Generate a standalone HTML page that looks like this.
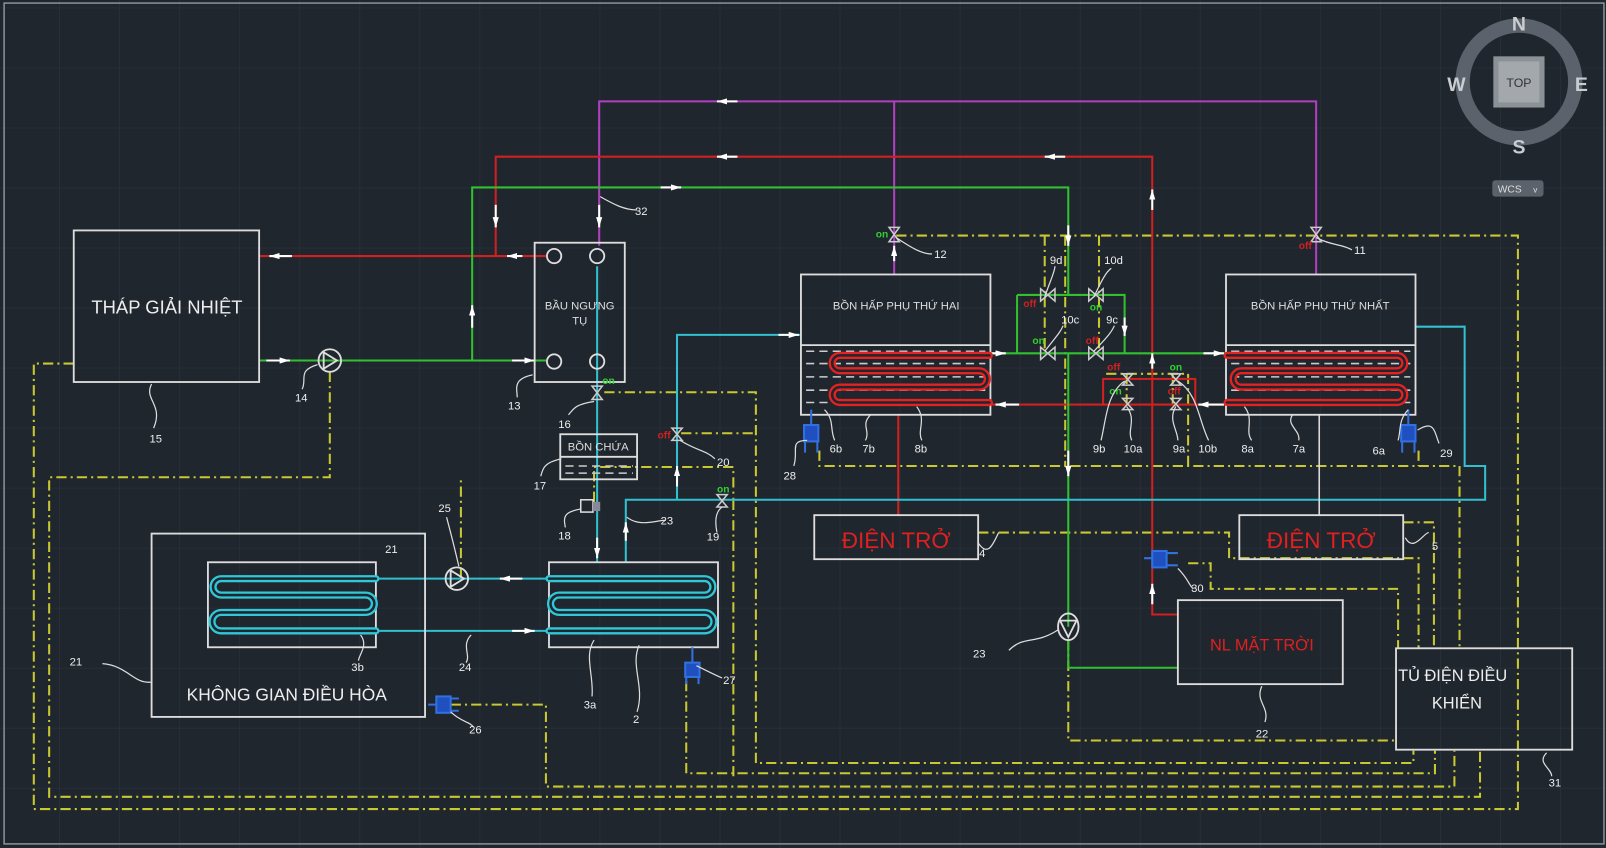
<!DOCTYPE html>
<html><head><meta charset="utf-8"><style>
html,body{margin:0;padding:0;background:#20262e;}
svg{display:block}
text{font-family:"Liberation Sans","Noto Sans CJK SC",sans-serif;}
</style></head><body>
<svg width="1606" height="848" viewBox="0 0 1568 828" preserveAspectRatio="none" xmlns="http://www.w3.org/2000/svg">
<defs>
<pattern id="g" width="58.6" height="58.6" patternUnits="userSpaceOnUse" x="0" y="8">
<path d="M58.6 0V58.6M0 58.6H58.6" stroke="#2d3540" stroke-width="1" fill="none"/>
</pattern>
<marker id="a" viewBox="0 0 10 6" refX="10" refY="3" markerWidth="10" markerHeight="6" orient="auto" markerUnits="userSpaceOnUse"><path d="M0 0L10 3L0 6z" fill="#fff"/></marker>
</defs>
<rect width="1568" height="828" fill="#20262e"/>
<rect width="1568" height="828" fill="url(#g)"/>
<rect x="4" y="3" width="1562" height="821" fill="none" stroke="#8a9098" stroke-width="1.5"/>

<!-- compass -->
<circle cx="1483" cy="80" r="55" fill="none" stroke="#5b626b" stroke-width="14"/>
<rect x="1458" y="55" width="50" height="50" fill="#8c9197"/>
<rect x="1463" y="60" width="40" height="40" fill="#a3a8ad"/>
<text x="1483" y="85" font-size="12" fill="#333" text-anchor="middle">TOP</text>
<text x="1483" y="30" font-size="19" font-weight="bold" fill="#c9ccd0" text-anchor="middle">N</text>
<text x="1483" y="150" font-size="19" font-weight="bold" fill="#c9ccd0" text-anchor="middle">S</text>
<text x="1422" y="89" font-size="19" font-weight="bold" fill="#c9ccd0" text-anchor="middle">W</text>
<text x="1544" y="89" font-size="19" font-weight="bold" fill="#c9ccd0" text-anchor="middle">E</text>
<rect x="1457" y="176" width="50" height="16" rx="3" fill="#5b626b"/>
<text x="1474" y="188" font-size="10" fill="#ddd" text-anchor="middle">WCS</text>
<text x="1497" y="188" font-size="8" fill="#ddd">v</text>

<!-- yellow dashed control lines -->
<g fill="none" stroke="#c8c832" stroke-width="2" stroke-dasharray="10 4 2 4">
<path d="M72 355H33V790H1482V230H873"/>
<path d="M322 363V466H48V778H1445V733"/>
<path d="M450 565V466"/>
<path d="M440 688H533V768H1420V733"/>
<path d="M670 665V755H1401V733"/>
<path d="M590 383H738V745H1380V733"/>
<path d="M665 423H738"/>
<path d="M580 490V456H716V488"/>
<path d="M716 488V760"/>
<path d="M1040 230V455"/>
<path d="M1020 230V345M1073 230V345"/>
<path d="M1080 365H1160V455"/>
<path d="M1100 365V395M1145 365V395"/>
<path d="M800 440V455H1425V633"/>
<path d="M1385 440V455"/>
<path d="M955 520H1200V545H1385V633"/>
<path d="M1370 510H1400V633"/>
<path d="M1160 550H1182V575H1365V633"/>
<path d="M1043 625V723H1363"/>
</g>

<!-- purple -->
<g fill="none" stroke="#b040c0" stroke-width="2">
<path d="M585 240V99H1285V268"/>
<path d="M873 99V268"/>
</g>
<!-- red -->
<g fill="none" stroke="#d02020" stroke-width="2">
<path d="M484 250V153H1125V600H1150"/>
<path d="M253 250H533"/>
<path d="M877 405V503"/>
<path d="M967 395H1197"/>
<rect x="1077" y="370" width="90" height="25"/>
</g>
<!-- green -->
<g fill="none" stroke="#30c030" stroke-width="2">
<path d="M253 352H533"/>
<path d="M461 352V183H1043V288"/>
<path d="M993 288H1098V345"/>
<path d="M993 288V345"/>
<path d="M967 345H1197"/>
<path d="M1043 345V612M1043 625V652H1150"/>
</g>
<!-- cyan -->
<g fill="none" stroke="#30c0d0" stroke-width="2">
<path d="M583 260V549"/>
<path d="M782 327H661V488"/>
<path d="M1382 319H1430V455H1450V488H611V549"/>
<path d="M367 565H536M367 616H536"/>
</g>
<!-- white -->
<g fill="none" stroke="#ddd" stroke-width="1.5">
<path d="M1288 405V503"/>
</g>
<!-- arrows -->
<g stroke="#fff" stroke-width="2" marker-end="url(#a)">
<line x1="720" y1="99" x2="700" y2="99"/>
<line x1="720" y1="153" x2="700" y2="153"/>
<line x1="1040" y1="153" x2="1020" y2="153"/>
<line x1="645" y1="183" x2="665" y2="183"/>
<line x1="484" y1="200" x2="484" y2="222"/>
<line x1="585" y1="200" x2="585" y2="222"/>
<line x1="461" y1="320" x2="461" y2="298"/>
<line x1="285" y1="250" x2="263" y2="250"/>
<line x1="510" y1="250" x2="495" y2="250"/>
<line x1="260" y1="352" x2="283" y2="352"/>
<line x1="500" y1="352" x2="522" y2="352"/>
<line x1="873" y1="255" x2="873" y2="240"/>
<line x1="1125" y1="205" x2="1125" y2="185"/>
<line x1="1043" y1="220" x2="1043" y2="240"/>
<line x1="1098" y1="310" x2="1098" y2="328"/>
<line x1="960" y1="345" x2="982" y2="345"/>
<line x1="1175" y1="345" x2="1195" y2="345"/>
<line x1="1125" y1="360" x2="1125" y2="345"/>
<line x1="995" y1="395" x2="972" y2="395"/>
<line x1="1195" y1="395" x2="1170" y2="395"/>
<line x1="1043" y1="440" x2="1043" y2="465"/>
<line x1="1125" y1="590" x2="1125" y2="570"/>
<line x1="760" y1="327" x2="780" y2="327"/>
<line x1="661" y1="475" x2="661" y2="455"/>
<line x1="583" y1="525" x2="583" y2="545"/>
<line x1="611" y1="528" x2="611" y2="510"/>
<line x1="510" y1="565" x2="488" y2="565"/>
<line x1="500" y1="616" x2="522" y2="616"/>
</g>

<!-- boxes -->
<g fill="none" stroke="#ddd" stroke-width="1.8">
<rect x="72" y="225" width="181" height="148"/>
<rect x="522" y="237" width="88" height="136"/>
<rect x="547" y="424" width="75" height="44"/>
<rect x="148" y="521" width="267" height="179"/>
<rect x="203" y="549" width="164" height="83"/>
<rect x="536" y="549" width="165" height="83"/>
<rect x="782" y="268" width="185" height="137"/>
<rect x="1197" y="268" width="185" height="137"/>
<rect x="795" y="503" width="160" height="43"/>
<rect x="1210" y="503" width="160" height="43"/>
<rect x="1150" y="586" width="161" height="82"/>
<rect x="1363" y="633" width="172" height="99"/>
<circle cx="541" cy="250" r="7"/><circle cx="583" cy="250" r="7"/>
<circle cx="541" cy="353" r="7"/><circle cx="583" cy="353" r="7"/>
<circle cx="322" cy="352" r="11"/><path d="M316 344L329 352L316 360Z"/>
<circle cx="446" cy="565" r="11"/><path d="M440 557L453 565L440 573Z"/>
<ellipse cx="1043" cy="612" rx="10" ry="13"/><path d="M1035 606H1051L1043 622Z"/>
<line x1="782" y1="337" x2="967" y2="337"/><line x1="1197" y1="337" x2="1382" y2="337"/>
<line x1="547" y1="446" x2="622" y2="446"/>
</g>
<g stroke="#ccc" stroke-width="1.5" stroke-dasharray="8 5">
<path d="M787 343H962M787 355H962M787 368H962M787 381H962M787 393H962"/>
<path d="M1202 343H1377M1202 355H1377M1202 368H1377M1202 381H1377M1202 393H1377"/>
<path d="M552 455H618M552 462H618"/>
</g>
<!-- coils -->
<g fill="none" stroke-linejoin="round" stroke-linecap="round">
<path d="M966 347H820A7.5 7.5 0 0 0 820 362H956A8 8 0 0 1 956 378H820A7.5 7.5 0 0 0 820 393H966" stroke="#e52222" stroke-width="7"/>
<path d="M966 347H820A7.5 7.5 0 0 0 820 362H956A8 8 0 0 1 956 378H820A7.5 7.5 0 0 0 820 393H966" stroke="#20262e" stroke-width="2.5"/>
<path d="M1198 347H1364A7.5 7.5 0 0 1 1364 362H1212A8 8 0 0 0 1212 378H1364A7.5 7.5 0 0 1 1364 393H1198" stroke="#e52222" stroke-width="7"/>
<path d="M1198 347H1364A7.5 7.5 0 0 1 1364 362H1212A8 8 0 0 0 1212 378H1364A7.5 7.5 0 0 1 1364 393H1198" stroke="#20262e" stroke-width="2.5"/>
<path d="M367 565H216A8 8 0 0 0 216 581H357A8.5 8.5 0 0 1 357 598H216A9 9 0 0 0 216 616H367" stroke="#30c8d8" stroke-width="7"/>
<path d="M367 565H216A8 8 0 0 0 216 581H357A8.5 8.5 0 0 1 357 598H216A9 9 0 0 0 216 616H367" stroke="#20262e" stroke-width="2.5"/>
<path d="M536 565H688A8 8 0 0 1 688 581H546A8.5 8.5 0 0 0 546 598H688A9 9 0 0 1 688 616H536" stroke="#30c8d8" stroke-width="7"/>
<path d="M536 565H688A8 8 0 0 1 688 581H546A8.5 8.5 0 0 0 546 598H688A9 9 0 0 1 688 616H536" stroke="#20262e" stroke-width="2.5"/>
</g>

<!-- valves -->
<g fill="none" stroke="#ccc" stroke-width="1.5">
<path d="M868 222L878 222L868 236L878 236Z"/>
<path d="M1280 222L1290 222L1280 236L1290 236Z"/>
<path d="M578 377L588 377L578 390L588 390Z"/>
<path d="M656 418L666 418L656 430L666 430Z"/>
<path d="M700 483L710 483L700 495L710 495Z"/>
<path d="M1016 282L1016 294L1030 282L1030 294Z"/>
<path d="M1063 282L1063 294L1077 282L1077 294Z"/>
<path d="M1016 339L1016 351L1030 339L1030 351Z"/>
<path d="M1063 339L1063 351L1077 339L1077 351Z"/>
<path d="M1096 365L1106 365L1096 376L1106 376Z"/>
<path d="M1143 365L1153 365L1143 376L1153 376Z"/>
<path d="M1096 389L1106 389L1096 400L1106 400Z"/>
<path d="M1143 389L1153 389L1143 400L1153 400Z"/>
</g>
<!-- blue sensors -->
<g fill="#2050c0" stroke="#3070e0" stroke-width="2">
<rect x="785" y="415" width="14" height="16"/><path d="M792 400V415M786 431V442M798 431V442" fill="none"/>
<rect x="1368" y="415" width="14" height="16"/><path d="M1375 400V415M1369 431V442M1381 431V442" fill="none"/>
<rect x="669" y="647" width="14" height="14"/><path d="M676 632V647M670 661V668M682 661V668" fill="none"/>
<rect x="426" y="680" width="14" height="16"/><path d="M418 688H426M440 682H448M440 694H448" fill="none"/>
<rect x="1125" y="538" width="14" height="16"/><path d="M1117 545H1125M1139 540H1150M1139 552H1150" fill="none"/>
</g>
<rect x="567" y="488" width="12" height="12" fill="none" stroke="#ddd" stroke-width="1.5"/>
<rect x="579" y="490" width="7" height="9" fill="#889" />

<!-- on/off -->
<g font-size="10" font-weight="bold">
<text x="855" y="232" fill="#30d030">on</text>
<text x="1268" y="243" fill="#d02020">off</text>
<text x="588" y="375" fill="#30d030">on</text>
<text x="642" y="428" fill="#d02020">off</text>
<text x="700" y="481" fill="#30d030">on</text>
<text x="999" y="300" fill="#d02020">off</text>
<text x="1064" y="303" fill="#30d030">on</text>
<text x="1008" y="336" fill="#30d030">on</text>
<text x="1060" y="336" fill="#d02020">off</text>
<text x="1081" y="362" fill="#d02020">off</text>
<text x="1142" y="362" fill="#30d030">on</text>
<text x="1083" y="385" fill="#30d030">on</text>
<text x="1140" y="385" fill="#d02020">off</text>
</g>

<!-- main texts -->
<text x="163" y="306" font-size="18" fill="#eee" text-anchor="middle">THÁP GIẢI NHIỆT</text>
<text x="566" y="302" font-size="11" fill="#ddd" text-anchor="middle">BẦU NGƯNG</text>
<text x="566" y="317" font-size="11" fill="#ddd" text-anchor="middle">TỤ</text>
<text x="584" y="440" font-size="11" fill="#ddd" text-anchor="middle">BỒN CHỨA</text>
<text x="280" y="684" font-size="17" fill="#eee" text-anchor="middle">KHÔNG GIAN ĐIỀU HÒA</text>
<text x="875" y="302" font-size="11" fill="#ddd" text-anchor="middle">BỒN HẤP PHỤ THỨ HAI</text>
<text x="1289" y="302" font-size="11" fill="#ddd" text-anchor="middle">BỒN HẤP PHỤ THỨ NHẤT</text>
<text x="875" y="535" font-size="22" fill="#e02020" text-anchor="middle">ĐIỆN TRỞ</text>
<text x="1290" y="535" font-size="22" fill="#e02020" text-anchor="middle">ĐIỆN TRỞ</text>
<text x="1232" y="635" font-size="16" fill="#e02020" text-anchor="middle">NL MẶT TRỜI</text>
<text x="1365" y="665" font-size="16" fill="#eee">TỦ ĐIỆN ĐIỀU</text>
<text x="1398" y="692" font-size="16" fill="#eee">KHIỂN</text>

<!-- leader lines -->
<g fill="none" stroke="#ddd" stroke-width="1.2">
<path d="M148 375C140 390 160 395 150 418"/>
<path d="M310 356C290 362 300 370 295 380"/>
<path d="M520 366C500 370 505 380 505 388"/>
<path d="M586 192C600 200 610 205 622 205"/>
<path d="M580 392C560 395 560 400 555 405"/>
<path d="M548 448C530 452 530 458 528 465"/>
<path d="M567 497C550 500 550 505 552 515"/>
<path d="M664 430C680 440 690 440 698 448"/>
<path d="M612 505C625 515 640 508 650 508"/>
<path d="M705 495C698 500 698 510 700 520"/>
<path d="M448 553C445 540 440 520 436 505"/>
<path d="M352 620C360 630 350 640 350 645"/>
<path d="M460 620C450 630 460 640 455 647"/>
<path d="M580 625C570 640 580 660 578 680"/>
<path d="M624 630C615 650 630 670 622 695"/>
<path d="M680 650C690 655 700 660 705 662"/>
<path d="M440 695C450 705 460 705 462 710"/>
<path d="M148 666C130 668 125 650 100 648"/>
<path d="M875 232C890 242 900 248 910 248"/>
<path d="M1285 232C1300 240 1310 238 1320 244"/>
<path d="M1020 290C1025 275 1030 265 1030 260"/>
<path d="M1068 290C1075 275 1080 265 1085 262"/>
<path d="M1020 343C1030 330 1035 325 1038 318"/>
<path d="M1068 343C1080 330 1085 325 1088 318"/>
<path d="M1098 372C1080 385 1080 410 1075 430"/>
<path d="M1100 397C1110 410 1100 420 1105 430"/>
<path d="M1148 397C1140 410 1150 420 1150 430"/>
<path d="M1150 372C1170 385 1170 410 1180 430"/>
<path d="M805 400C815 410 810 420 815 430"/>
<path d="M850 405C840 415 850 420 845 430"/>
<path d="M895 397C905 410 895 420 900 430"/>
<path d="M1215 397C1225 410 1215 420 1222 430"/>
<path d="M1262 405C1255 415 1270 420 1268 430"/>
<path d="M1375 400C1365 410 1368 420 1365 430"/>
<path d="M1384 420C1400 410 1400 420 1405 433"/>
<path d="M788 430C770 430 780 440 775 455"/>
<path d="M955 530C965 545 970 530 975 520"/>
<path d="M1372 525C1380 540 1390 520 1395 520"/>
<path d="M1150 555C1160 565 1160 570 1165 575"/>
<path d="M1033 615C1010 630 1000 620 985 635"/>
<path d="M1232 670C1225 685 1240 690 1235 705"/>
<path d="M1510 735C1500 745 1515 750 1515 758"/>
</g>
<g font-size="11" fill="#eee">
<text x="146" y="432">15</text><text x="288" y="392">14</text><text x="496" y="400">13</text>
<text x="620" y="210">32</text><text x="545" y="418">16</text><text x="521" y="478">17</text>
<text x="545" y="527">18</text><text x="700" y="455">20</text><text x="645" y="512">23</text>
<text x="690" y="528">19</text><text x="428" y="500">25</text><text x="376" y="540">21</text>
<text x="68" y="650">21</text><text x="343" y="655">3b</text><text x="448" y="655">24</text>
<text x="570" y="692">3a</text><text x="618" y="706">2</text><text x="706" y="668">27</text>
<text x="458" y="716">26</text><text x="912" y="252">12</text><text x="1322" y="248">11</text>
<text x="1025" y="258">9d</text><text x="1078" y="258">10d</text>
<text x="1036" y="316">10c</text><text x="1080" y="316">9c</text>
<text x="1067" y="442">9b</text><text x="1097" y="442">10a</text>
<text x="1145" y="442">9a</text><text x="1170" y="442">10b</text>
<text x="810" y="442">6b</text><text x="842" y="442">7b</text><text x="893" y="442">8b</text>
<text x="1212" y="442">8a</text><text x="1262" y="442">7a</text><text x="1340" y="444">6a</text>
<text x="1406" y="446">29</text><text x="765" y="468">28</text><text x="956" y="544">4</text>
<text x="1398" y="537">5</text><text x="1163" y="578">30</text><text x="950" y="642">23</text>
<text x="1226" y="720">22</text><text x="1512" y="768">31</text>
</g>
</svg>
</body></html>
